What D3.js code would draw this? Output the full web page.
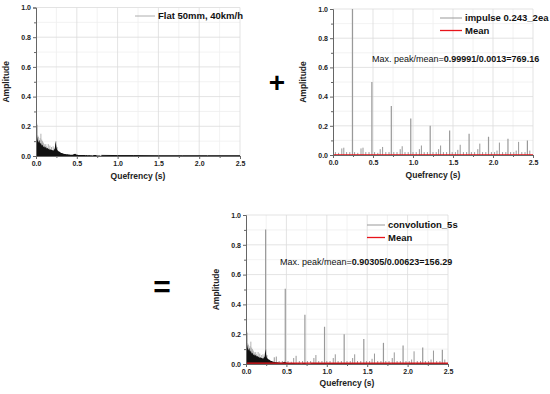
<!DOCTYPE html>
<html>
<head>
<meta charset="utf-8">
<script src="https://cdn.jsdelivr.net/npm/d3@7"></script>
<style>
  body { margin: 0; background: #fff; }
  text { font-family: "Liberation Sans", Arial, sans-serif; }
</style>
</head>
<body>
<script>
// cepstrum panels: road input + impulse train = convolution

var STEP = 0.01; // sample spacing of the dense road signal (s)

// dense road signal, black part (0.00 .. 0.79 s)
var flatAmp = [
  0.28, 0.14, 0.11, 0.09, 0.11, 0.08, 0.09, 0.07, 0.075, 0.06,
  0.065, 0.055, 0.06, 0.05, 0.055, 0.045, 0.05, 0.04, 0.045, 0.04,
  0.04, 0.035, 0.04, 0.05, 0.10, 0.06, 0.04, 0.035, 0.03, 0.028,
  0.024, 0.02, 0.02, 0.016, 0.015, 0.013, 0.014, 0.012, 0.012, 0.011,
  0.01, 0.01, 0.009, 0.009, 0.008, 0.009, 0.011, 0.013, 0.015, 0.011,
  0.009, 0.008, 0.007, 0.007, 0.006, 0.007, 0.006, 0.006, 0.007, 0.006,
  0.006, 0.005, 0.006, 0.005, 0.005, 0.006, 0.005, 0.005, 0.005, 0.004,
  0.005, 0.006, 0.007, 0.006, 0.005, 0.004, 0.004, 0.004, 0.004, 0.004
];
// tail of the road signal (0.8 .. 2.5 s)
var tailQ   = [0.8, 1.0, 1.2, 1.5, 1.8, 2.1, 2.5];
var tailAmp = [0.004, 0.003, 0.003, 0.002, 0.002, 0.002, 0.002];

// light gray stems of the road signal
var flatStemQ   = [0.008, 0.015, 0.02, 0.03, 0.04, 0.05, 0.06, 0.07, 0.08, 0.09,
                   0.10, 0.11, 0.12, 0.13, 0.15, 0.17, 0.19, 0.21, 0.22, 0.245, 0.26];
var flatStemAmp = [0.22, 0.21, 0.14, 0.13, 0.1, 0.12, 0.15, 0.11, 0.10, 0.09,
                   0.08, 0.07, 0.08, 0.065, 0.08, 0.07, 0.06, 0.065, 0.05, 0.10, 0.06];

// impulse train peaks
var peakQ       = [0.243, 0.486, 0.729, 0.972, 1.215, 1.458, 1.701, 1.944, 2.187, 2.43];
var impulseAmp  = [1.0, 0.5, 0.335, 0.25, 0.2, 0.167, 0.145, 0.125, 0.112, 0.1];
var convAmp     = [0.903, 0.505, 0.33, 0.25, 0.2, 0.167, 0.142, 0.125, 0.11, 0.095];

// small side spikes between the peaks
var sideQ = [
  0.03, 0.07, 0.11, 0.135, 0.17, 0.21,
  0.27, 0.31, 0.35, 0.375, 0.41, 0.45,
  0.52, 0.56, 0.59, 0.62, 0.66, 0.70,
  0.76, 0.80, 0.84, 0.865, 0.90, 0.94,
  1.00, 1.04, 1.08, 1.105, 1.14, 1.18,
  1.25, 1.29, 1.32, 1.345, 1.38, 1.42,
  1.49, 1.53, 1.56, 1.59, 1.63, 1.67,
  1.73, 1.77, 1.81, 1.835, 1.87, 1.91,
  1.98, 2.02, 2.05, 2.08, 2.12, 2.16,
  2.22, 2.26, 2.29, 2.32, 2.36, 2.40, 2.46
];
var sideAmp = [
  0.02, 0.015, 0.045, 0.05, 0.02, 0.02,
  0.02, 0.015, 0.045, 0.05, 0.02, 0.02,
  0.02, 0.015, 0.04, 0.055, 0.02, 0.02,
  0.02, 0.02, 0.04, 0.06, 0.02, 0.02,
  0.02, 0.02, 0.04, 0.065, 0.02, 0.02,
  0.02, 0.02, 0.04, 0.065, 0.02, 0.02,
  0.02, 0.02, 0.035, 0.07, 0.02, 0.02,
  0.02, 0.02, 0.04, 0.078, 0.02, 0.02,
  0.02, 0.02, 0.03, 0.085, 0.02, 0.02,
  0.02, 0.02, 0.03, 0.09, 0.02, 0.02, 0.03
];

var impulseMean = 0.0013;
var convMean = 0.00623;

var xTicks = [0, 0.5, 1.0, 1.5, 2.0, 2.5];
var yTicks = [0, 0.2, 0.4, 0.6, 0.8, 1.0];

var W = 550, H = 394;
var svg = d3.select("body").append("svg")
    .attr("width", W)
    .attr("height", H);

function panel(box) {
  var x = d3.scaleLinear().domain([0, 2.5]).range([box.x0, box.x1]);
  var y = d3.scaleLinear().domain([0, 1]).range([box.yb, box.yt]);
  var g = svg.append("g");

  // grid, minor first
  g.selectAll(".gmx").data(d3.range(0.25, 2.6, 0.5)).enter().append("line")
      .attr("x1", x).attr("x2", x).attr("y1", box.yb).attr("y2", box.yt)
      .attr("stroke", "#efefef").attr("stroke-width", 0.8);
  g.selectAll(".gmy").data([0.1, 0.3, 0.5, 0.7, 0.9]).enter().append("line")
      .attr("x1", box.x0).attr("x2", box.x1).attr("y1", y).attr("y2", y)
      .attr("stroke", "#efefef").attr("stroke-width", 0.8);
  g.selectAll(".gx").data(xTicks.slice(1)).enter().append("line")
      .attr("x1", x).attr("x2", x).attr("y1", box.yb).attr("y2", box.yt)
      .attr("stroke", "#dcdcdc").attr("stroke-width", 0.8);
  g.selectAll(".gy").data(yTicks.slice(1)).enter().append("line")
      .attr("x1", box.x0).attr("x2", box.x1).attr("y1", y).attr("y2", y)
      .attr("stroke", "#dcdcdc").attr("stroke-width", 0.8);

  var marks = g.append("g");

  // axes
  g.append("g").attr("transform", "translate(0," + box.yb + ")")
      .call(d3.axisBottom(x).tickValues(xTicks).tickFormat(d3.format(".1f")).tickSize(3).tickPadding(2));
  g.append("g").attr("transform", "translate(0," + box.yb + ")")
      .call(d3.axisBottom(x).tickValues(d3.range(0.25, 2.6, 0.5)).tickFormat("").tickSize(2))
      .select(".domain").remove();
  g.append("g").attr("transform", "translate(" + box.x0 + ",0)")
      .call(d3.axisLeft(y).tickValues(yTicks).tickFormat(d3.format(".1f")).tickSize(3).tickPadding(2));
  g.append("g").attr("transform", "translate(" + box.x0 + ",0)")
      .call(d3.axisLeft(y).tickValues([0.1, 0.3, 0.5, 0.7, 0.9]).tickFormat("").tickSize(2))
      .select(".domain").remove();
  g.selectAll(".domain").attr("stroke", "#666");
  g.selectAll(".tick line").attr("stroke", "#666");
  g.selectAll(".tick text").attr("font-size", 7).attr("font-weight", "bold")
      .attr("fill", "#222").style("font-family", "Liberation Sans, Arial, sans-serif");

  g.append("text")
      .attr("transform", "translate(" + box.ylx + "," + ((box.yt + box.yb) / 2) + ") rotate(-90)")
      .attr("text-anchor", "middle")
      .attr("font-size", 8.5).attr("font-weight", "bold").attr("fill", "#222")
      .text("Amplitude");
  g.append("text")
      .attr("x", (box.x0 + box.x1) / 2).attr("y", box.xly)
      .attr("text-anchor", "middle")
      .attr("font-size", 8.5).attr("font-weight", "bold").attr("fill", "#222")
      .text("Quefrency (s)");

  return {x: x, y: y, g: marks};
}

function stems(p, qs, amps, color, width) {
  p.g.selectAll(null).data(qs).enter().append("line")
      .attr("x1", function(d) { return p.x(d); })
      .attr("x2", function(d) { return p.x(d); })
      .attr("y1", p.y(0))
      .attr("y2", function(d, i) { return p.y(amps[i]); })
      .attr("stroke", color).attr("stroke-width", width);
}

function roadSignal(p) {
  stems(p, flatStemQ, flatStemAmp, "#aaa", 0.9);
  var area = d3.area()
      .x(function(d, i) { return p.x(i * STEP); })
      .y0(p.y(0))
      .y1(function(d) { return p.y(d); });
  p.g.append("path").datum(flatAmp).attr("d", area).attr("fill", "#111");
  p.g.append("path").datum(tailQ)
      .attr("d", d3.line().x(function(d) { return p.x(d); })
                          .y(function(d, i) { return p.y(tailAmp[i]); }))
      .attr("fill", "none").attr("stroke", "#111").attr("stroke-width", 1);
}

function meanLine(p, m) {
  p.g.append("line")
      .attr("x1", p.x(0)).attr("x2", p.x(2.5))
      .attr("y1", p.y(m)).attr("y2", p.y(m))
      .attr("stroke", "#e8141b").attr("stroke-width", 1.3);
}

function legend(items, lx, ly) {
  items.forEach(function(it, i) {
    var yy = ly + i * 12.5;
    svg.append("line").attr("x1", lx).attr("x2", lx + it.len).attr("y1", yy).attr("y2", yy)
        .attr("stroke", it.color).attr("stroke-width", it.w);
    svg.append("text").attr("x", lx + it.len + 3).attr("y", yy + 3.3)
        .attr("font-size", 9.5).attr("font-weight", "bold").attr("fill", "#111")
        .text(it.label);
  });
}

function note(x, y, peak, mean, ratio) {
  var t = svg.append("text").attr("x", x).attr("y", y).attr("font-size", 9).attr("fill", "#111");
  t.append("tspan").text("Max. peak/mean=");
  t.append("tspan").attr("font-weight", "bold").text(peak + "/" + mean + "=" + ratio);
}

// panel 1: road input
var p1 = panel({x0: 36, x1: 240, yt: 7.5, yb: 156, ylx: 9, xly: 179});
roadSignal(p1);
legend([{label: "Flat 50mm, 40km/h", color: "#999", w: 0.8, len: 20}], 135, 16);

// panel 2: impulse train
var p2 = panel({x0: 333, x1: 533, yt: 9, yb: 155, ylx: 306, xly: 178});
stems(p2, sideQ, sideAmp, "#999", 1);
stems(p2, peakQ, impulseAmp, "#999", 1.2);
meanLine(p2, impulseMean);
legend([{label: "impulse 0.243_2ea", color: "#999", w: 1, len: 22},
        {label: "Mean", color: "#e8141b", w: 1.3, len: 22}], 440, 18);
note(372, 62, "0.99991", "0.0013", "769.16");

// panel 3: convolution
var p3 = panel({x0: 246, x1: 448, yt: 215, yb: 364, ylx: 219, xly: 386});
stems(p3, sideQ, sideAmp, "#999", 1);
stems(p3, peakQ, convAmp, "#999", 1.2);
roadSignal(p3);
meanLine(p3, convMean);
legend([{label: "convolution_5s", color: "#999", w: 1, len: 18},
        {label: "Mean", color: "#e8141b", w: 1.3, len: 18}], 367, 225);
note(280, 265, "0.90305", "0.00623", "156.29");

// operators between panels
svg.append("text").attr("x", 277).attr("y", 92).attr("text-anchor", "middle")
    .attr("font-size", 28).attr("font-weight", "bold").attr("fill", "#000").text("+");
svg.append("text").attr("x", 162).attr("y", 297).attr("text-anchor", "middle")
    .attr("font-size", 30).attr("font-weight", "bold").attr("fill", "#000").text("=");
</script>
</body>
</html>
